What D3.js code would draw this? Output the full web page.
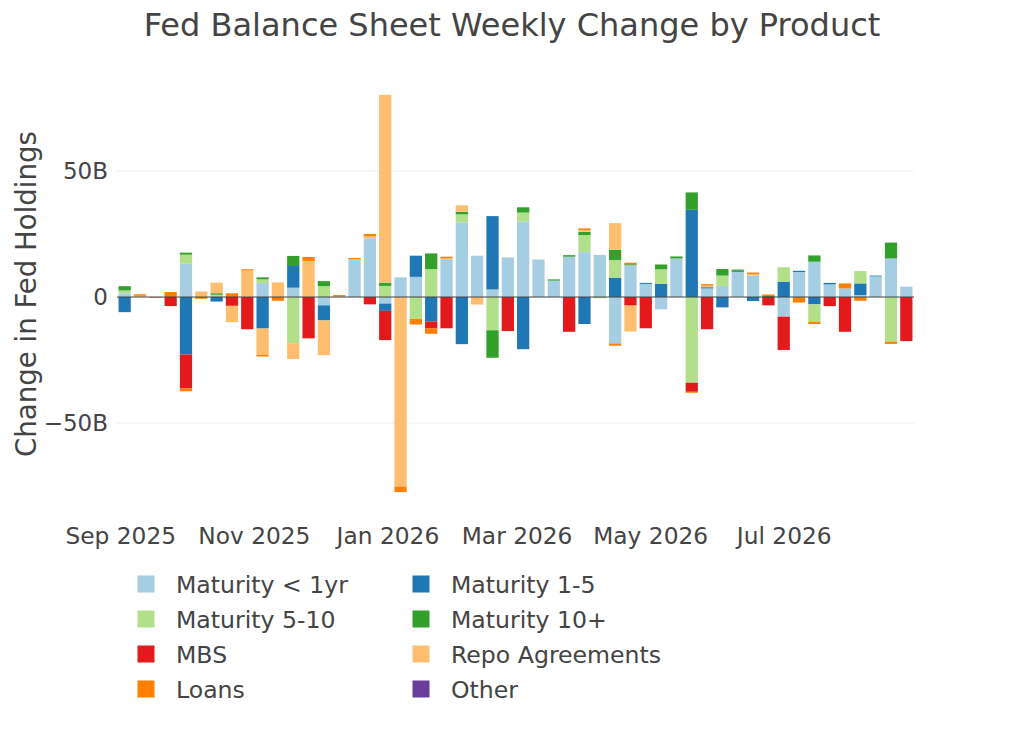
<!DOCTYPE html>
<html>
<head>
<meta charset="utf-8">
<script src="https://cdn.jsdelivr.net/npm/d3@7"></script>
<style>
  html, body { margin: 0; padding: 0; background: #fff; }
  svg { display: block; font-family: "DejaVu Sans", Verdana, sans-serif; }
</style>
</head>
<body>
<svg id="chart" width="1024" height="731"></svg>
<script>
// ---- Data (billions USD, weekly change) ----
const firstWeek = "2025-09-03";
const weekCount = 52;
const seriesNames = ["Maturity < 1yr", "Maturity 1-5", "Maturity 5-10", "Maturity 10+", "MBS", "Repo Agreements", "Loans", "Other"];
const seriesColors = ["#a6cee3", "#1f78b4", "#b2df8a", "#33a02c", "#e31a1c", "#fdbf6f", "#ff7f00", "#6a3d9a"];

const maturityLt1 = [1.5,0,0,0,13.2,0,0.3,0,0,5.5,0,3.7,0,-3.3,0,15.0,23.3,-2.6,7.8,8.0,0,15.0,29.6,16.4,3.0,15.7,29.9,14.9,6.5,16.0,17.8,16.7,-18.4,12.6,5.2,-4.9,15.3,0,3.4,4.4,10.0,8.6,0,-7.8,9.9,14.0,5.0,3.4,0.8,8.2,15.3,4.1];
const maturity1to5 = [-6.0,0,0,0,-22.8,0,-1.8,0,0,-12.5,0,8.6,0,-6.0,0,0,0,-2.9,0,8.4,-9.7,0,-18.7,0,29.1,0,-20.7,0,0,0,-10.7,0,7.7,0,0.4,5.2,0,34.6,0.5,-4.1,0.4,-1.6,0,6.1,0.5,-2.9,0.6,0,4.6,0.3,0,0];
const maturity5to10 = [1.1,0,0,0,3.6,0,0.6,0,0,1.5,0,-18.3,0,4.3,0,0,0,4.4,0,-8.7,11.1,0,3.2,0,-13.2,0,3.6,0,0,0,6.8,-0.5,7.0,0,0,5.8,0,-34.0,0,4.1,0,0,0,5.7,0,-6.9,0,0,4.9,0,-17.7,0];
const maturity10p = [1.7,0,0,0,0.8,0,0.6,0,0,0.8,0,4.0,0,2.0,0,0,0,1.3,0,0,6.2,0,1.0,0,-10.9,0,2.1,0,0.5,0.6,1.3,0,4.0,0.4,0,1.9,0.8,6.9,0,2.6,0.5,0,0.4,0,0,2.5,0,0,0,0,6.3,0];
const mbs = [0,0,-0.2,-3.6,-13.5,0,0,-3.5,-12.8,0,0,0,-16.4,0,0,0,-2.9,-11.6,0,0,-2.8,-12.4,0,0,0,-13.5,0,0,0,-13.8,0,0,0,-3.4,-12.4,0,0,-3.6,-12.8,0,0,0,-3.3,-13.2,0,0,-3.6,-13.8,0,0,0,-17.5];
const repo = [0,0.5,0,0,0,2.2,4.2,-6.5,10.5,-10.5,5.8,-6.3,14.3,-13.8,0.4,0,0.9,74.5,-75.2,0,0,0.4,2.6,-3.0,0,0,0,0,0,0,0.7,0,10.6,-10.3,0,0,0,0,0.6,0,0,0.5,0,0,0,0,0,0,0,0,0,0];
const loans = [0,0.6,0,2.0,-1.1,-0.7,0,1.5,0.5,-0.6,-1.5,0,1.6,0,0.4,0.5,0.8,0,-2.2,-2.2,-2.1,0.6,0,0,0,0,0,0,0,0,0.6,0,-0.9,0.6,0,0,0,-0.4,0.6,0,0,0.6,0.6,0,-2.2,-0.9,0,2.0,-1.5,0,-0.9,0];
const other = new Array(52).fill(0);

const yTickValues = [-50, 0, 50];
const xTickLabels = ["Sep 2025", "Nov 2025", "Jan 2026", "Mar 2026", "May 2026", "Jul 2026"];

// ---- Build table ----
const seriesValues = [maturityLt1, maturity1to5, maturity5to10, maturity10p, mbs, repo, loans, other];
const parse = d3.utcParse("%Y-%m-%d");
const start = parse(firstWeek);
const dates = d3.range(weekCount).map(i => d3.utcDay.offset(start, 7 * i));

const segments = [];
dates.forEach((d, i) => {
  let pos = 0, neg = 0;
  seriesValues.forEach((vals, s) => {
    const v = vals[i];
    if (!v) return;
    if (v > 0) { segments.push({date: d, s, y0: pos, y1: pos + v}); pos += v; }
    else { segments.push({date: d, s, y0: neg + v, y1: neg}); neg += v; }
  });
});

// ---- Layout ----
const svg = d3.select("#chart");
const plot = {left: 117, right: 914, top: 80, bottom: 510};

const x = d3.scaleUtc()
  .domain([d3.utcHour.offset(start, -84), d3.utcHour.offset(dates[dates.length - 1], 84)])
  .range([plot.left, plot.right]);
const y = d3.scaleLinear()
  .domain([-84.5, 86.1])
  .range([plot.bottom, plot.top]);

const barW = (x(d3.utcDay.offset(start, 7)) - x(start)) * 0.8;

// grid
svg.append("g").selectAll("line").data(yTickValues.filter(v => v !== 0)).join("line")
  .attr("x1", plot.left).attr("x2", plot.right)
  .attr("y1", d => y(d)).attr("y2", d => y(d))
  .attr("stroke", "#eeeeee").attr("stroke-width", 1);

// bars
svg.append("g").selectAll("rect").data(segments).join("rect")
  .attr("x", d => x(d.date) - barW / 2)
  .attr("width", barW)
  .attr("y", d => y(d.y1))
  .attr("height", d => Math.max(0, y(d.y0) - y(d.y1)))
  .attr("fill", d => seriesColors[d.s]);

// zero line
svg.append("line")
  .attr("x1", plot.left).attr("x2", plot.right)
  .attr("y1", y(0)).attr("y2", y(0))
  .attr("stroke", "#444").attr("stroke-width", 1);

// y axis labels
const yAxis = d3.axisLeft(y).tickValues(yTickValues).tickSize(0).tickPadding(0)
  .tickFormat(v => v === 0 ? "0" : (v < 0 ? "\u2212" : "") + Math.abs(v) + "B");
const gy = svg.append("g").attr("transform", `translate(108,0)`).call(yAxis);
gy.select(".domain").remove();
gy.selectAll("text").attr("fill", "#444").style("font-size", "23px").style("font-family", "DejaVu Sans, sans-serif");

// x axis labels
const xTickDates = xTickLabels.map(l => d3.utcParse("%b %Y")(l));
const xAxis = d3.axisBottom(x).tickValues(xTickDates).tickSize(0).tickPadding(0)
  .tickFormat((d, i) => xTickLabels[i]);
const gx = svg.append("g").attr("transform", `translate(0,527)`).call(xAxis);
gx.select(".domain").remove();
gx.selectAll("text").attr("fill", "#444").style("font-size", "23.3px").attr("dy", "0.73em").style("font-family", "DejaVu Sans, sans-serif");

// title
svg.append("text").attr("x", 512).attr("y", 36).attr("text-anchor", "middle")
  .attr("fill", "#444").style("font-size", "32px").text("Fed Balance Sheet Weekly Change by Product");

// y title
svg.append("text").attr("transform", "translate(36,294) rotate(-90)").attr("text-anchor", "middle")
  .attr("fill", "#444").style("font-size", "27.6px").text("Change in Fed Holdings");

// legend
const legend = svg.append("g");
const items = legend.selectAll("g").data(seriesNames).join("g")
  .attr("transform", (d, i) => `translate(${i % 2 === 0 ? 146 : 421},${584 + Math.floor(i / 2) * 35})`);
items.append("rect").attr("x", -8.5).attr("y", -8.5).attr("width", 17).attr("height", 17)
  .attr("fill", (d, i) => seriesColors[i]);
items.append("text").attr("x", 30).attr("dy", "0.36em").attr("fill", "#444")
  .style("font-size", "23.6px").text(d => d);
</script>
</body>
</html>
